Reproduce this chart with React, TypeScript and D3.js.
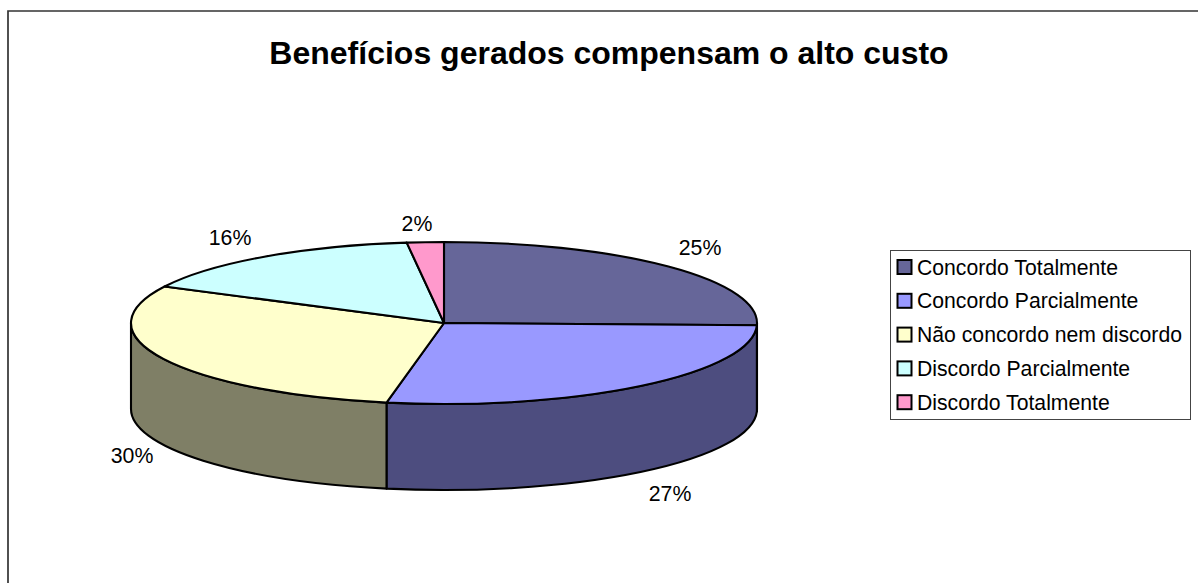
import React from 'react';
import * as d3 from 'd3';

const width = 1198, height = 583;

// chart data
const categories = ['Concordo Totalmente', 'Concordo Parcialmente', 'Não concordo nem discordo', 'Discordo Parcialmente', 'Discordo Totalmente'];
const values = [25.45, 27.49, 29.5, 15.66, 1.9];
const topColors = ['#666699', '#9999ff', '#ffffcc', '#ccffff', '#ff99cc'];
const sideColors = ['#4d4d73', '#4d4d7f', '#7f7f66', '#668080', '#804d66'];
const labelOffsets = [[256, -68], [226, 178], [-312, 140], [-214, -78], [-27, -92]];

const cx = 444, cy = 323, rx = 313, ry = 81, depth = 86;
const fontFamily = '"Liberation Sans", Arial, sans-serif';

const pie = d3.pie<number>().sort(null).startAngle(0).endAngle(2 * Math.PI);
const arcs = pie(values);
const arc = d3.arc<d3.PieArcDatum<number>>().innerRadius(0).outerRadius(rx);

// point on the tilted rim, angle measured clockwise from the top
const rimX = (a: number) => cx + rx * Math.sin(a);
const rimY = (a: number) => cy - ry * Math.cos(a);

// front wall of a slice, only the part between 90 and 270 degrees can be seen
function wallPath(d: d3.PieArcDatum<number>) {
    const a0 = Math.max(d.startAngle, Math.PI / 2);
    const a1 = Math.min(d.endAngle, 3 * Math.PI / 2);
    if (a1 <= a0) return null;
    return `M${rimX(a0)},${rimY(a0)}A${rx},${ry} 0 0 1 ${rimX(a1)},${rimY(a1)}` +
        `L${rimX(a1)},${rimY(a1) + depth}A${rx},${ry} 0 0 0 ${rimX(a0)},${rimY(a0) + depth}Z`;
}

export default function App() {
    return (
        <svg width={width} height={height} viewBox={`0 0 ${width} ${height}`}
            style={{ position: 'absolute', left: 0, top: 0, background: '#fff' }}>
            {/* frame, the bottom and right edges fall outside the crop */}
            <path d={`M8,${height}V11H${width}`} fill="none" stroke="#333" strokeWidth={1.7} />

            <text x={609} y={64} textAnchor="middle" fontFamily={fontFamily} fontWeight="bold" fontSize={32} fill="#000">
                Benefícios gerados compensam o alto custo
            </text>

            <g stroke="#000" strokeWidth={2.1} strokeLinejoin="round">
                {arcs.map((d, i) => {
                    const path = wallPath(d);
                    return path ? <path key={i} d={path} fill={sideColors[i]} /> : null;
                })}
                {arcs.map((d, i) => (
                    <path key={i} d={arc(d) as string} fill={topColors[i]}
                        transform={`translate(${cx},${cy}) scale(1,${ry / rx})`}
                        vectorEffect="non-scaling-stroke" />
                ))}
            </g>

            {values.map((v, i) => (
                <text key={i} x={cx + labelOffsets[i][0]} y={cy + labelOffsets[i][1]} textAnchor="middle"
                    fontFamily={fontFamily} fontSize={21.3} fill="#000">
                    {d3.format('.0f')(v)}%
                </text>
            ))}

            <g transform="translate(890,250)">
                <rect x={0.5} y={0.5} width={300} height={169} fill="#fff" stroke="#444" strokeWidth={1} />
                {categories.map((c, i) => (
                    <g key={i} transform={`translate(0,${17 + i * 33.8})`}>
                        <rect x={7.5} y={-7} width={14} height={14} fill={topColors[i]} stroke="#000" strokeWidth={2} />
                        <text x={27} y={7.5} fontFamily={fontFamily} fontSize={21.2} fill="#000">{c}</text>
                    </g>
                ))}
            </g>
        </svg>
    );
}
